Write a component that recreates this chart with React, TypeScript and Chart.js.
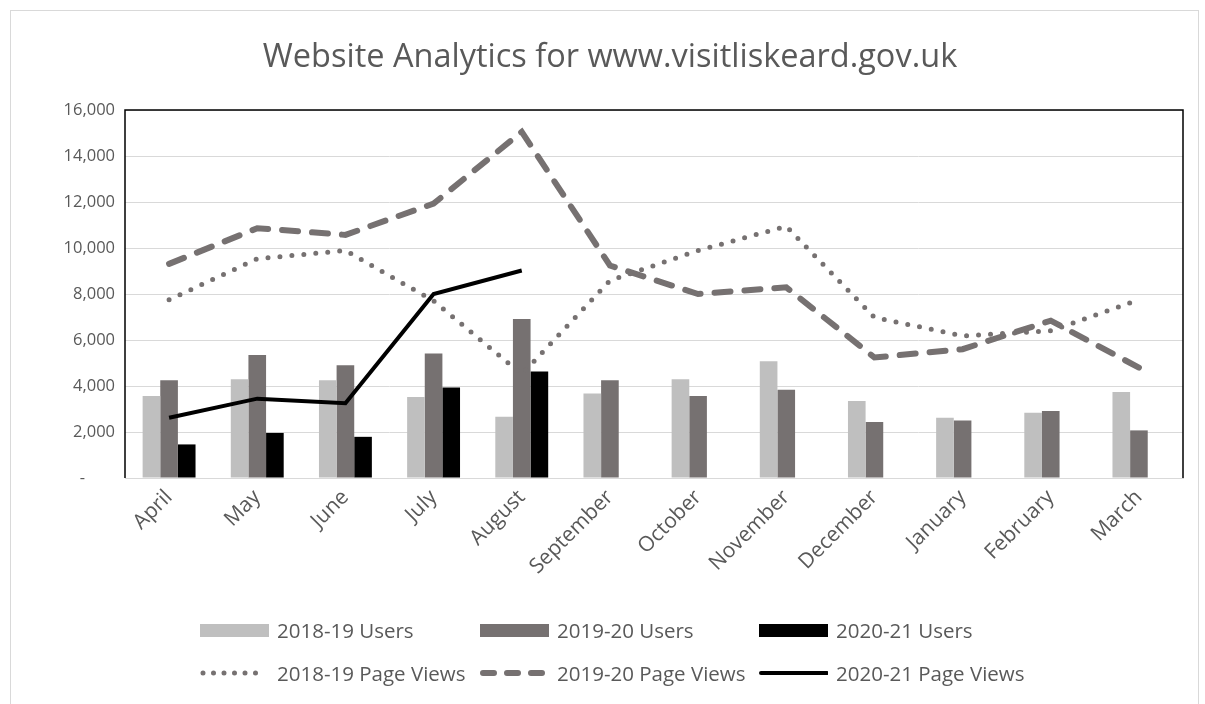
import React, { useEffect, useRef } from "react";
import { Chart, registerables } from "chart.js";

Chart.register(...registerables);

const months = ["April", "May", "June", "July", "August", "September", "October", "November", "December", "January", "February", "March"];
const users1819 = [3560, 4290, 4250, 3520, 2660, 3670, 4290, 5080, 3350, 2620, 2840, 3740];
const users1920 = [4250, 5350, 4900, 5410, 6910, 4250, 3560, 3840, 2440, 2500, 2910, 2070];
const users2021 = [1460, 1960, 1790, 3930, 4630, null, null, null, null, null, null, null];
const views1819 = [7750, 9530, 9890, 7700, 4510, 8580, 9890, 10940, 6980, 6180, 6400, 7750];
const views1920 = [9310, 10860, 10570, 11930, 15050, 9240, 8000, 8290, 5240, 5600, 6840, 4800];
const views2021 = [2620, 3450, 3250, 8000, 9020, null, null, null, null, null, null, null];
const yTicks = [0, 2000, 4000, 6000, 8000, 10000, 12000, 14000, 16000];

const FONT = "'Open Sans', 'Noto Sans', sans-serif";
const TEXT = "#595959";
const LIGHT = "#bfbfbf";
const MID = "#767171";

const frame = {
  id: "frame",
  afterDatasetsDraw(chart: any) {
    const { ctx, chartArea: a } = chart;
    ctx.save();
    ctx.strokeStyle = "#000";
    ctx.lineWidth = 1.5;
    ctx.beginPath();
    ctx.moveTo(a.left, a.bottom);
    ctx.lineTo(a.left, a.top);
    ctx.lineTo(a.right, a.top);
    ctx.lineTo(a.right, a.bottom);
    ctx.stroke();
    ctx.restore();
  },
};

export default function App() {
  const ref = useRef<HTMLCanvasElement>(null);
  useEffect(() => {
    const chart = new Chart(ref.current!, {
      type: "bar",
      data: {
        labels: months,
        datasets: [
          { type: "bar", label: "2018-19 Users", data: users1819, backgroundColor: LIGHT, order: 2 },
          { type: "bar", label: "2019-20 Users", data: users1920, backgroundColor: MID, order: 2 },
          { type: "bar", label: "2020-21 Users", data: users2021, backgroundColor: "#000", order: 2 },
          {
            type: "line", label: "2018-19 Page Views", data: views1819, borderColor: MID, borderWidth: 5,
            borderDash: [0, 12], borderCapStyle: "round", pointRadius: 0, tension: 0, order: 1,
          },
          {
            type: "line", label: "2019-20 Page Views", data: views1920, borderColor: MID, borderWidth: 6,
            borderDash: [16, 14], borderCapStyle: "round", pointRadius: 0, tension: 0, order: 1,
          },
          {
            type: "line", label: "2020-21 Page Views", data: views2021, borderColor: "#000", borderWidth: 4,
            pointRadius: 0, tension: 0, order: 1, spanGaps: false,
          },
        ],
      } as any,
      options: {
        animation: false,
        responsive: false,
        layout: { padding: { left: 27, right: 16, top: 0, bottom: 0 } },
        datasets: { bar: { categoryPercentage: 0.6, barPercentage: 1 } } as any,
        plugins: {
          legend: { display: false },
          tooltip: { enabled: false },
          title: {
            display: true,
            text: "Website Analytics for www.visitliskeard.gov.uk",
            color: TEXT,
            font: { family: FONT, size: 32.5, weight: "normal" as any, lineHeight: 1.2 },
            padding: { top: 28, bottom: 33 },
          },
        },
        scales: {
          x: {
            grid: { display: false, drawTicks: false },
            border: { color: "#d9d9d9", width: 1 },
            ticks: {
              color: TEXT,
              font: { family: FONT, size: 21 },
              maxRotation: 45,
              minRotation: 45,
              padding: 7,
              autoSkip: false,
            },
            afterFit(scale: any) { scale.height = 226; },
          },
          y: {
            min: 0,
            max: 16000,
            afterBuildTicks(scale: any) { scale.ticks = yTicks.map((v) => ({ value: v })); },
            grid: { color: "#d9d9d9", lineWidth: 1, drawTicks: false },
            border: { display: false },
            ticks: {
              color: TEXT,
              font: { family: FONT, size: 16.5 },
              padding: 10,
              callback: (v: any) => (v === 0 ? "-       " : Number(v).toLocaleString("en-US")),
            },
            afterFit(scale: any) { scale.width = 88; },
          },
        },
      },
      plugins: [frame],
    });
    return () => chart.destroy();
  }, []);

  const legendRow1 = [
    { label: "2018-19 Users", kind: "box", color: LIGHT, x: 200 },
    { label: "2019-20 Users", kind: "box", color: MID, x: 480 },
    { label: "2020-21 Users", kind: "box", color: "#000", x: 759 },
  ];
  const legendRow2 = [
    { label: "2018-19 Page Views", kind: "dot", color: MID, x: 200 },
    { label: "2019-20 Page Views", kind: "dash", color: MID, x: 480 },
    { label: "2020-21 Page Views", kind: "solid", color: "#000", x: 759 },
  ];

  const swatch = (kind: string, color: string) => {
    if (kind === "box") return <div style={{ width: 69, height: 13, background: color }} />;
    if (kind === "dot")
      return (
        <svg width={69} height={10}>
          <line x1={3} y1={5} x2={66} y2={5} stroke={color} strokeWidth={5} strokeDasharray="0 10.5" strokeLinecap="round" />
        </svg>
      );
    if (kind === "dash")
      return (
        <svg width={69} height={10}>
          <line x1={3} y1={5} x2={66} y2={5} stroke={color} strokeWidth={6} strokeDasharray="11 13" strokeLinecap="round" />
        </svg>
      );
    return (
      <svg width={69} height={10}>
        <line x1={2} y1={5} x2={68} y2={5} stroke={color} strokeWidth={4} strokeLinecap="round" />
      </svg>
    );
  };

  const renderItem = (it: any, y: number) => (
    <div key={it.label} style={{ position: "absolute", left: it.x, top: y - 14, height: 28, display: "flex", alignItems: "center", gap: 8 }}>
      {swatch(it.kind, it.color)}
      <span style={{ fontFamily: FONT, fontSize: 20.5, color: TEXT, whiteSpace: "nowrap" }}>{it.label}</span>
    </div>
  );

  return (
    <div style={{ position: "absolute", left: 0, top: 0, width: 1205, height: 704, background: "#fff", overflow: "hidden" }}>
      <div style={{ position: "absolute", left: 10, top: 10, width: 1189, height: 710, border: "1px solid #d9d9d9", boxSizing: "border-box" }} />
      <canvas ref={ref} width={1189} height={694} style={{ position: "absolute", left: 10, top: 10 }} />
      {legendRow1.map((it) => renderItem(it, 630))}
      {legendRow2.map((it) => renderItem(it, 673))}
    </div>
  );
}
